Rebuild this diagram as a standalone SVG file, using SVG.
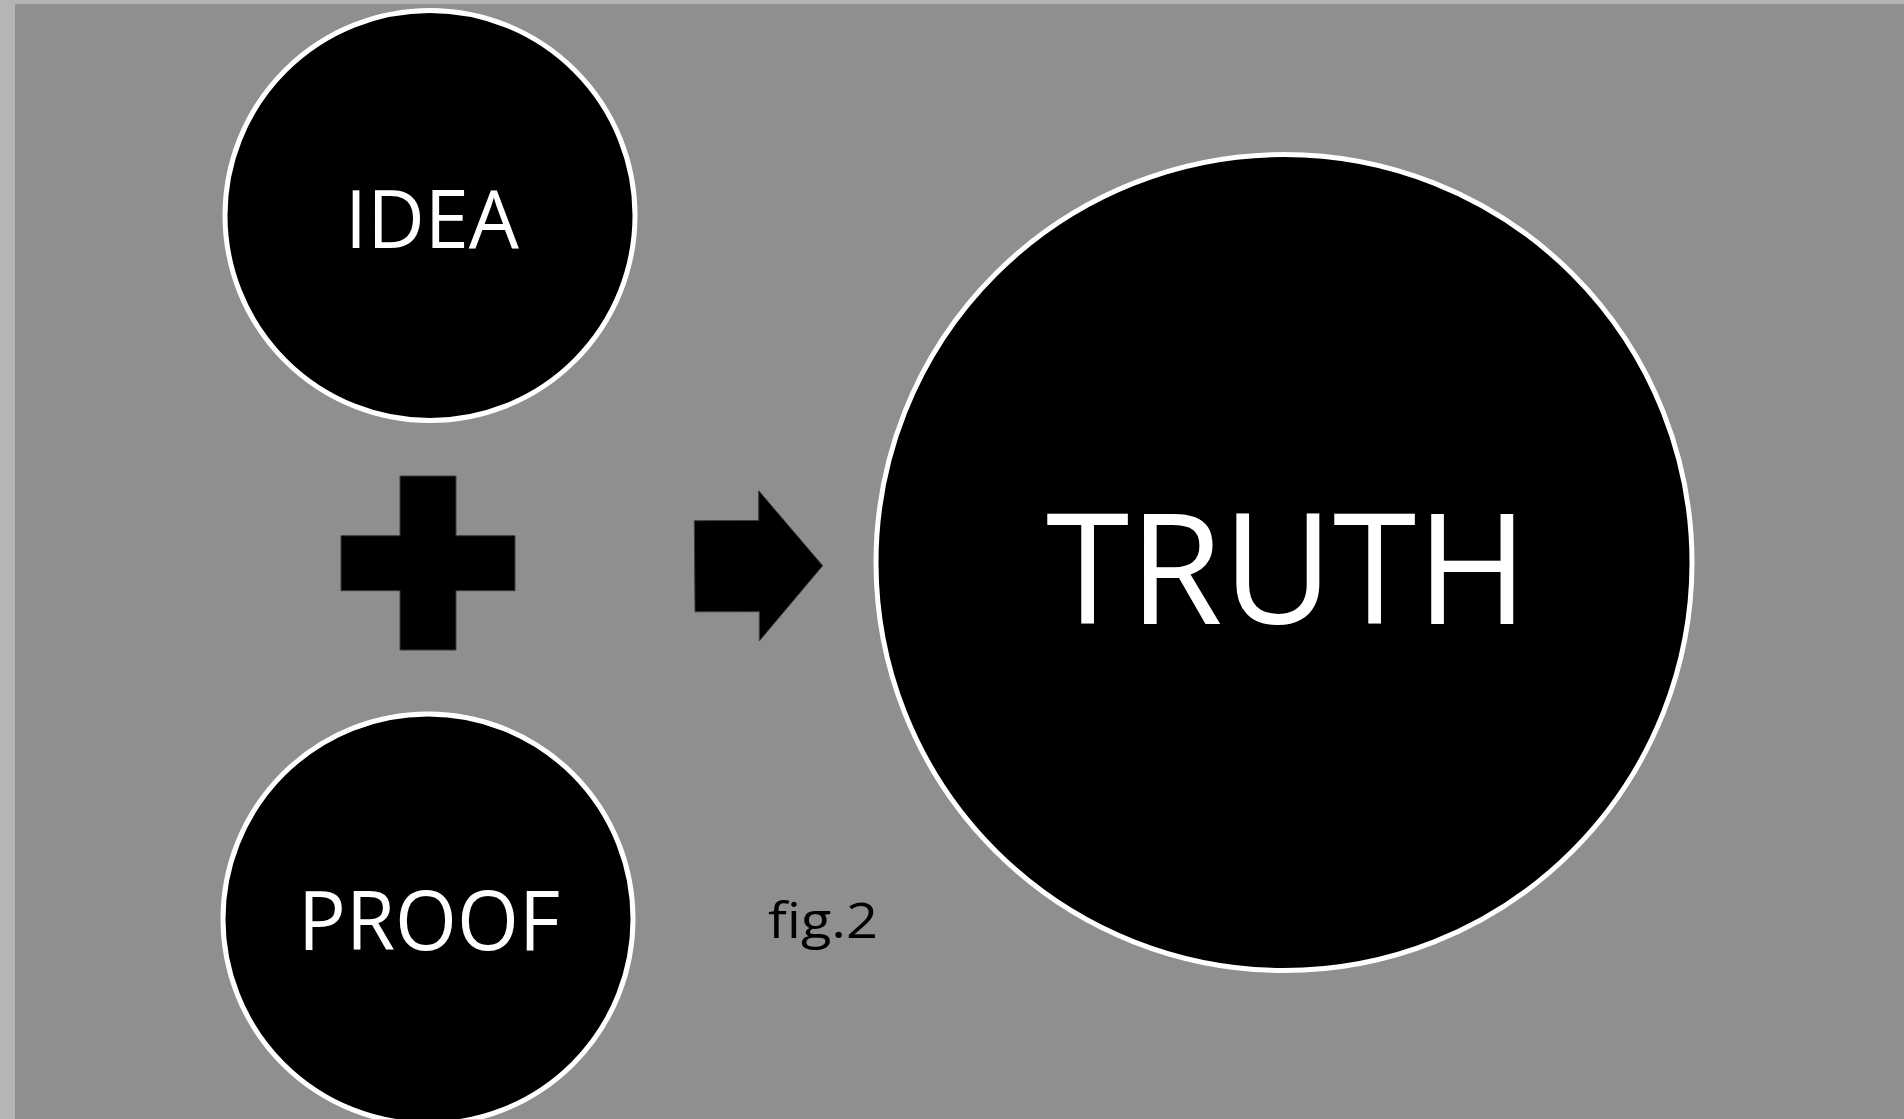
<svg xmlns="http://www.w3.org/2000/svg" width="1904" height="1119" viewBox="0 0 1904 1119">
  <style>
    .node { fill: #000000; stroke: #ffffff; stroke-width: 5; }
    .label { fill: #ffffff; font-family: "Open Sans", "Noto Sans", "Liberation Sans", sans-serif; text-anchor: middle; }
    .sym { fill: #000000; stroke: #3c3c3c; stroke-width: 1; }
    .cap { fill: #000000; font-family: "Open Sans", "Noto Sans", "Liberation Sans", sans-serif; }
  </style>
  <rect x="0" y="0" width="1904" height="1119" fill="#b5b5b5"/>
  <rect x="15" y="4" width="1889" height="1115" fill="#8f8f8f"/>

  <g id="idea">
    <circle class="node" cx="430" cy="215.5" r="205"/>
    <text class="label" x="432" y="248" font-size="81" textLength="174" lengthAdjust="spacingAndGlyphs">IDEA</text>
  </g>

  <g id="proof">
    <circle class="node" cx="428" cy="919" r="205"/>
    <text class="label" x="429" y="950" font-size="82" textLength="262" lengthAdjust="spacingAndGlyphs">PROOF</text>
  </g>

  <g id="truth">
    <circle class="node" cx="1284" cy="562.5" r="408"/>
    <text class="label" x="1287" y="624" font-size="153" textLength="482" lengthAdjust="spacingAndGlyphs">TRUTH</text>
  </g>

  <g id="plus">
    <path class="sym" d="M400,476 H456 V535.7 H515 V590.7 H456 V650 H400 V590.7 H341 V535.7 H400 Z"/>
  </g>

  <g id="connectors">
    <path class="sym" d="M694.3,520.7 L758.7,520.5 L758.7,490.7 L822.7,565.7 L759.3,641 L759.3,611.7 L695,611.8 Z"/>
  </g>

  <g id="caption">
    <text class="cap" x="768" y="938" font-size="50" textLength="110" lengthAdjust="spacingAndGlyphs">fig.2</text>
  </g>
</svg>
